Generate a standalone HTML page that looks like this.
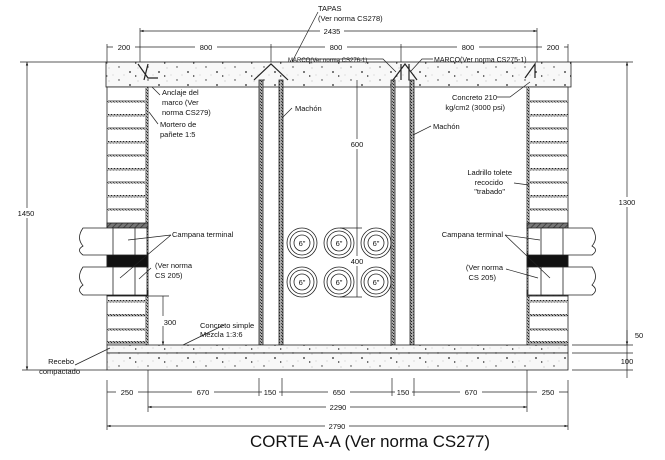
<!DOCTYPE html>
<html><head><meta charset="utf-8"><style>
html,body{margin:0;padding:0;background:#fff;width:665px;height:460px;overflow:hidden}
svg{display:block}
text{font-family:"Liberation Sans",sans-serif;font-size:7.5px;fill:#111}
</style></head><body>
<svg width="665" height="460" viewBox="0 0 665 460" xmlns="http://www.w3.org/2000/svg">
<defs>
<pattern id="conc" width="29" height="13" patternUnits="userSpaceOnUse">
<rect width="29" height="13" fill="#f8f8f8"/>
<circle cx="3" cy="2" r="0.7" fill="#333"/><circle cx="14" cy="7" r="0.9" fill="#222"/>
<circle cx="22" cy="3" r="0.4" fill="#666"/><circle cx="8" cy="10" r="0.4" fill="#777"/>
<path d="M19 10 l2 1 l-2 1z" fill="#444"/><circle cx="26" cy="10" r="0.4" fill="#888"/>
</pattern>
<pattern id="mort" width="3" height="3" patternUnits="userSpaceOnUse">
<rect width="3" height="3" fill="#aaa"/><rect width="1" height="1" fill="#222"/><rect x="2" y="2" width="1" height="1" fill="#444"/>
</pattern>
<pattern id="hatch" width="4" height="4" patternUnits="userSpaceOnUse" patternTransform="rotate(45)">
<rect width="4" height="4" fill="#777"/><line x1="0" y1="0" x2="0" y2="4" stroke="#333" stroke-width="1.5"/>
</pattern>
<marker id="a" viewBox="0 0 6 6" refX="6" refY="3" markerWidth="5" markerHeight="5" orient="auto-start-reverse"><path d="M0 1 L6 3 L0 5z" fill="#111"/></marker>
</defs>
<g stroke="#222" stroke-width="0.8">
<rect x="106" y="62" width="465" height="25" fill="url(#conc)"/>
<line x1="20" y1="62" x2="106" y2="62"/>
<line x1="571" y1="62" x2="633" y2="62"/>
<g fill="none" stroke-width="1.2">
<path d="M138 64 L148 78 L158 78"/><path d="M148 64 L144 80"/>
<path d="M254 80 L271 64 L288 80"/>
<path d="M393 80 L405 64 L417 80 M401 64 L401 80 M409 64 L409 80"/>
<path d="M525 78 L535 64 L535 78"/>
</g>
<rect x="107" y="87" width="41" height="258" fill="#fff"/>
<rect x="527" y="87" width="41" height="258" fill="#fff"/>
<rect x="145" y="87" width="3" height="258" fill="url(#mort)" stroke="none"/>
<rect x="527" y="87" width="3" height="258" fill="url(#mort)" stroke="none"/>
<g fill="url(#mort)" stroke="none">
<rect x="107" y="100" width="41" height="2.5"/><rect x="107" y="114" width="41" height="2.5"/><rect x="107" y="127" width="41" height="2.5"/><rect x="107" y="141" width="41" height="2.5"/><rect x="107" y="154" width="41" height="2.5"/><rect x="107" y="168" width="41" height="2.5"/><rect x="107" y="181" width="41" height="2.5"/><rect x="107" y="195" width="41" height="2.5"/><rect x="107" y="208" width="41" height="2.5"/><rect x="107" y="300" width="41" height="2.5"/><rect x="107" y="314" width="41" height="2.5"/><rect x="107" y="328" width="41" height="2.5"/><rect x="107" y="341" width="41" height="3"/>
<rect x="527" y="100" width="41" height="2.5"/><rect x="527" y="114" width="41" height="2.5"/><rect x="527" y="127" width="41" height="2.5"/><rect x="527" y="141" width="41" height="2.5"/><rect x="527" y="154" width="41" height="2.5"/><rect x="527" y="168" width="41" height="2.5"/><rect x="527" y="181" width="41" height="2.5"/><rect x="527" y="195" width="41" height="2.5"/><rect x="527" y="208" width="41" height="2.5"/><rect x="527" y="300" width="41" height="2.5"/><rect x="527" y="314" width="41" height="2.5"/><rect x="527" y="328" width="41" height="2.5"/><rect x="527" y="341" width="41" height="3"/>
</g>
<rect x="107" y="223" width="41" height="6" fill="url(#hatch)"/>
<rect x="107" y="253" width="41" height="14" fill="#111"/>
<rect x="107" y="290" width="41" height="6" fill="#111"/>
<g fill="#fff">
<path d="M83 228 H147 V255 H83 Q76 250 83 246 Q76 238 83 228z"/>
<path d="M83 267 H147 V295 H83 Q76 290 83 285 Q76 277 83 267z"/>
<rect x="113" y="228" width="22" height="27"/><rect x="113" y="267" width="22" height="28"/>
</g>
<rect x="527" y="223" width="41" height="6" fill="url(#hatch)"/>
<rect x="527" y="253" width="41" height="14" fill="#111"/>
<rect x="527" y="290" width="41" height="6" fill="url(#hatch)"/>
<g fill="#fff">
<path d="M528 228 H592 Q599 238 592 246 Q599 250 592 255 H528z"/>
<path d="M528 267 H592 Q599 277 592 285 Q599 290 592 295 H528z"/>
<rect x="541" y="228" width="22" height="27"/><rect x="541" y="267" width="22" height="28"/>
</g>
<rect x="259" y="80" width="4" height="265" fill="url(#mort)"/>
<rect x="279" y="80" width="4" height="265" fill="url(#mort)"/>
<rect x="391" y="80" width="4" height="265" fill="url(#mort)"/>
<rect x="410" y="80" width="4" height="265" fill="url(#mort)"/>
<rect x="107" y="345" width="461" height="8" fill="url(#conc)"/>
<rect x="107" y="353" width="461" height="17" fill="url(#conc)"/>
<g fill="none">
<circle cx="302" cy="243" r="15"/><circle cx="302" cy="243" r="12"/><circle cx="302" cy="243" r="8"/>
<circle cx="339" cy="243" r="15"/><circle cx="339" cy="243" r="12"/><circle cx="339" cy="243" r="8"/>
<circle cx="376" cy="243" r="15"/><circle cx="376" cy="243" r="12"/><circle cx="376" cy="243" r="8"/>
<circle cx="302" cy="282" r="15"/><circle cx="302" cy="282" r="12"/><circle cx="302" cy="282" r="8"/>
<circle cx="339" cy="282" r="15"/><circle cx="339" cy="282" r="12"/><circle cx="339" cy="282" r="8"/>
<circle cx="376" cy="282" r="15"/><circle cx="376" cy="282" r="12"/><circle cx="376" cy="282" r="8"/>
</g>
<g stroke-width="0.7" fill="none">
<line x1="357" y1="80" x2="357" y2="297"/>
<line x1="340" y1="228" x2="362" y2="228"/><line x1="340" y1="297" x2="362" y2="297"/>
<line x1="140" y1="31" x2="537" y2="31" marker-start="url(#a)" marker-end="url(#a)"/>
<line x1="140" y1="28" x2="140" y2="62"/><line x1="537" y1="28" x2="537" y2="62"/>
<line x1="107" y1="44" x2="107" y2="62"/><line x1="568" y1="44" x2="568" y2="62"/>
<line x1="271" y1="44" x2="271" y2="62"/><line x1="401" y1="44" x2="401" y2="62"/>
<line x1="107" y1="47" x2="568" y2="47"/>
<line x1="27" y1="62" x2="27" y2="370" marker-start="url(#a)" marker-end="url(#a)"/>
<line x1="22" y1="370" x2="107" y2="370"/>
<line x1="627" y1="62" x2="627" y2="345" marker-start="url(#a)" marker-end="url(#a)"/>
<line x1="572" y1="345" x2="633" y2="345"/><line x1="572" y1="353" x2="633" y2="353"/><line x1="572" y1="370" x2="633" y2="370"/>
<line x1="627" y1="330" x2="627" y2="378"/>
<line x1="148" y1="296" x2="169" y2="296"/><line x1="163" y1="296" x2="163" y2="345" marker-end="url(#a)"/>
<line x1="107" y1="380" x2="107" y2="430"/><line x1="568" y1="380" x2="568" y2="430"/>
<line x1="148" y1="370" x2="148" y2="412"/><line x1="527" y1="370" x2="527" y2="412"/>
<line x1="259" y1="378" x2="259" y2="396"/><line x1="282" y1="378" x2="282" y2="396"/>
<line x1="392" y1="378" x2="392" y2="396"/><line x1="414" y1="378" x2="414" y2="396"/>
<line x1="107" y1="392" x2="568" y2="392"/>
<line x1="148" y1="407" x2="527" y2="407" marker-start="url(#a)" marker-end="url(#a)"/>
<line x1="107" y1="426" x2="568" y2="426" marker-start="url(#a)" marker-end="url(#a)"/>
<path d="M318 12 L292 62"/>
<path d="M300 59 L383 59 L396 72"/>
<path d="M433 59 L422 59 L411 71"/>
<path d="M160 95 L152 87"/>
<path d="M158 124 L149 112"/>
<path d="M292 108 L282 118"/>
<path d="M431 126 L413 135"/>
<path d="M497 97 L510 97 L530 82"/>
<path d="M514 183 L529 185"/>
<path d="M171 235 L128 240 M171 235 L120 278"/>
<path d="M151 268 L139 279"/>
<path d="M224 325 L183 345"/>
<path d="M75 365 L110 348"/>
<path d="M505 235 L540 240 M505 235 L550 278"/>
<path d="M506 269 L538 278"/>
</g>
</g>
<g fill="#fff" stroke="none">
<rect x="113" y="41" width="22" height="10"/><rect x="195" y="41" width="22" height="10"/><rect x="325" y="41" width="22" height="10"/><rect x="457" y="41" width="22" height="10"/><rect x="542" y="41" width="22" height="10"/>
<rect x="320" y="25" width="24" height="10"/>
<rect x="116" y="387" width="22" height="10"/><rect x="192" y="387" width="22" height="10"/><rect x="262" y="387" width="17" height="10"/><rect x="328" y="387" width="22" height="10"/><rect x="395" y="387" width="17" height="10"/><rect x="460" y="387" width="22" height="10"/><rect x="537" y="387" width="22" height="10"/>
<rect x="326" y="402" width="24" height="10"/><rect x="325" y="421" width="24" height="10"/>
<rect x="14" y="208" width="24" height="10"/><rect x="615" y="197" width="24" height="10"/>
<rect x="347" y="139" width="20" height="10"/><rect x="347" y="256" width="20" height="10"/><rect x="153" y="316" width="20" height="10"/>
</g>
<g text-anchor="middle">
<text x="124" y="50">200</text><text x="206" y="50">800</text><text x="336" y="50">800</text><text x="468" y="50">800</text><text x="553" y="50">200</text>
<text x="332" y="34">2435</text>
<text x="127" y="395">250</text><text x="203" y="395">670</text><text x="270" y="395">150</text><text x="339" y="395">650</text><text x="403" y="395">150</text><text x="471" y="395">670</text><text x="548" y="395">250</text>
<text x="338" y="410">2290</text><text x="337" y="429">2790</text>
<text x="26" y="216">1450</text><text x="627" y="205">1300</text>
<text x="357" y="147">600</text><text x="357" y="264">400</text><text x="170" y="325">300</text>
<text x="639" y="338">50</text><text x="627" y="364">100</text>
<text x="302" y="246">6"</text><text x="339" y="246">6"</text><text x="376" y="246">6"</text>
<text x="302" y="285">6"</text><text x="339" y="285">6"</text><text x="376" y="285">6"</text>
</g>
<g>
<text x="318" y="11">TAPAS</text>
<text x="318" y="21">(Ver norma CS278)</text>
<text x="288" y="62" style="font-size:6px">MARCO(Ver norma CS276-1)</text>
<text x="434" y="62" style="font-size:7px">MARCO(Ver norma CS275-1)</text>
<text x="162" y="95">Anclaje del</text><text x="162" y="105">marco (Ver</text><text x="162" y="115">norma CS279)</text>
<text x="160" y="127">Mortero de</text><text x="160" y="137">pañete 1:5</text>
<text x="295" y="111">Machón</text>
<text x="433" y="129">Machón</text>
<text x="497" y="100" text-anchor="end">Concreto 210</text><text x="505" y="110" text-anchor="end">kg/cm2 (3000 psi)</text>
<text x="512" y="175" text-anchor="end">Ladrillo tolete</text><text x="503" y="185" text-anchor="end">recocido</text><text x="505" y="194" text-anchor="end">"trabado"</text>
<text x="172" y="237">Campana terminal</text>
<text x="155" y="268">(Ver norma</text><text x="155" y="278">CS 205)</text>
<text x="200" y="328">Concreto simple</text><text x="200" y="337">Mezcla 1:3:6</text>
<text x="74" y="364" text-anchor="end">Recebo</text><text x="80" y="374" text-anchor="end">compactado</text>
<text x="503" y="237" text-anchor="end">Campana terminal</text>
<text x="503" y="270" text-anchor="end">(Ver norma</text><text x="496" y="280" text-anchor="end">CS 205)</text>
</g>
<text x="250" y="447" textLength="240" lengthAdjust="spacingAndGlyphs" style="font-size:17px">CORTE A-A (Ver norma CS277)</text>
</svg>
</body></html>
